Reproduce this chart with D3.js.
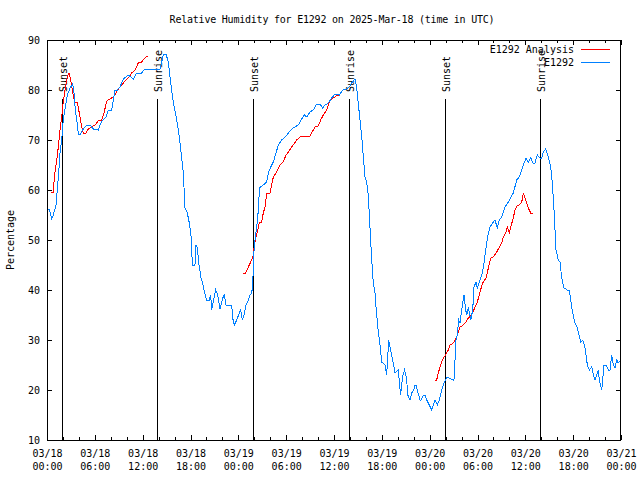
<!DOCTYPE html>
<html><head><meta charset="utf-8">
<script src="https://cdn.jsdelivr.net/npm/d3@7"></script>
<style>
body{margin:0;background:#fff}
svg{display:block}
text{font-family:"DejaVu Sans Mono",monospace;font-size:10px;fill:#000}
</style></head><body>
<svg id="c" width="640" height="480"></svg>
<script>
// ---- data (hours after 2025-03-18 00:00 UTC) ----
const titleText = "Relative Humidity for E1292 on 2025-Mar-18 (time in UTC)";
const yLabel = "Percentage";
const seriesNames = ["E1292 Analysis", "E1292"];
const seriesColors = ["#ff0000", "#0080ff"];
const yTicks = [10,20,30,40,50,60,70,80,90];

const obsHours = [0,0.3,0.59,0.79,1.13,1.47,1.63,1.84,2.04,2.30,2.55,2.89,3.22,3.39,3.55,3.73,3.93,4.14,4.48,4.77,5.06,5.39,5.81,6.43,6.65,6.99,7.40,7.69,8.12,8.53,8.82,9.16,9.57,10.20,10.83,11.25,11.88,12.17,12.51,14.17,14.59,14.93,15.22,15.52,15.84,16.27,16.60,16.90,17.10,17.31,17.60,17.85,18.06,18.15,18.28,18.56,18.69,18.85,19.07,19.32,19.53,19.78,20.03,20.36,20.53,20.66,20.86,21.16,21.41,21.70,22.04,22.24,22.45,23.17,23.29,23.49,23.80,24.12,24.30,24.50,24.71,24.96,25.25,25.46,25.68,25.80,25.88,25.97,26.09,26.30,26.43,26.56,26.63,27.13,27.56,27.76,28.06,28.39,28.73,29.01,29.44,29.98,30.27,30.70,31.11,31.52,31.86,32.28,32.58,32.99,33.40,33.83,34.24,34.58,34.87,35.29,35.71,36.13,36.67,37.09,37.51,37.92,38.22,38.64,38.85,39.17,39.48,39.68,39.89,40.10,40.30,40.43,40.73,40.93,41.14,41.27,41.56,41.77,41.98,42.40,42.61,42.86,43.11,43.44,43.65,44.07,44.35,44.60,44.85,45.10,45.25,45.53,45.80,46.00,46.16,46.30,46.45,46.79,46.91,47.20,47.42,47.63,47.95,48.26,48.46,48.67,48.96,49.21,49.51,49.71,49.96,50.21,50.97,51.05,51.18,51.30,51.47,51.64,51.81,52.02,52.15,52.31,52.52,52.65,52.85,53.15,53.40,53.56,53.81,53.98,54.23,54.53,54.73,54.94,55.16,55.36,55.57,55.91,56.20,56.48,56.74,57.04,57.45,57.87,58.49,58.92,59.24,59.55,59.75,60.09,60.37,60.68,61.00,61.21,61.50,61.84,62.05,62.26,62.56,62.88,63.18,63.38,63.60,63.72,63.85,64.14,64.35,64.56,64.85,65.27,65.52,65.69,65.94,66.23,66.45,66.65,66.95,67.20,67.49,67.78,68.03,68.33,68.53,68.74,68.95,69.15,69.28,69.58,69.87,70.12,70.41,70.62,70.83,71.04,71.25,71.46,71.66,71.88];
const obsRH = [56.2,56,54.2,55,57,63.4,67.4,70,74,76.6,79,80.4,81.2,79.4,76,74,71.2,71,72,72.6,73,73,72.2,72,73,74,74.6,76,76,80,80,80.6,82.2,83,82.2,83.4,83.4,84,84.2,84.2,87,87.2,85.6,81.4,77.6,74,70.6,66.4,63.4,56.4,55.4,53.4,51,47.4,45,45,49,48.4,45,42.4,41.4,39.4,38,38,39,36,37.6,40,39,36.2,38.4,39,37,37,34.4,33,34,35.4,36,34,35,37,38,39,39.4,41,44.4,48,50,52.6,54.6,57,60.4,61,61.6,63.4,64.6,65.6,67.4,69,70,70.8,71.4,72.2,72.6,73,74,75,74.6,75.6,76,77.2,77.2,76.4,77,77.4,78.4,79.2,79,80,80.2,80.6,81.4,82.2,80.4,75.4,70.6,66.6,62.6,61.6,59,55,46,41.4,39.4,36.6,31.6,29,25.6,25,23,30,28,25.4,23.4,24,19,22.6,24,22.4,19,18,19.6,20,21,21,20,18,18,19,19,18,17,16,17,18,17,18,20,21,22,22.6,22,22,26,30,31,34,33.4,36,37.4,39,36,35,36.6,34,36,40.6,41.6,40.4,41.6,43,44.4,47,49.4,51.4,52.6,53.4,54,52.4,54,54.6,56.6,57.6,59.4,62,62.6,64,65,66.4,65.6,66.4,65.2,65.4,67,66.4,66.4,67.6,68.2,66.6,64.6,61.4,56,52,48,46,45.6,42.4,40.4,40,40,38,35.4,33.4,32.8,31.6,29.6,30,28.4,25,24,24.6,23,22,23,24,22,20,25,25,24,24,27,25,24.4,26,25.4,25.8,26.2];

// analysis: null marks a gap between runs
const anaHours = [0.50,0.79,0.92,1.22,1.42,1.63,1.84,2.04,2.30,2.55,2.76,2.97,3.22,3.47,3.80,4.05,4.35,4.55,4.89,5.18,5.61,6.02,6.43,6.86,7.15,7.49,7.90,8.32,8.66,8.94,9.37,9.78,10.20,10.62,11.04,11.45,11.88,12.17,12.51,12.71,
  null,
  24.62,24.92,25.25,25.55,25.80,25.97,26.18,26.38,26.63,26.93,27.13,27.35,27.56,27.97,28.39,28.73,29.23,29.64,29.98,30.27,30.70,31.32,31.74,32.36,32.99,33.33,33.62,34.03,34.33,34.66,35.09,35.50,35.84,36.13,36.41,36.75,
  null,
  48.67,48.88,49.08,49.30,49.51,49.71,49.92,50.13,50.34,50.55,50.97,51.18,51.47,51.60,51.81,52.22,52.56,52.85,53.27,53.69,53.98,54.31,54.65,55.07,55.36,55.66,55.98,56.41,56.74,57.04,57.24,57.58,57.74,57.99,58.17,58.42,58.71,58.92,59.24,59.55,59.75,59.96,60.37,60.68,60.93];
const anaRH = [59.6,59.6,62.6,66,68.6,72,74.6,77.6,80.4,82.6,83.4,82,79.6,77.6,77.6,75.4,72.6,71.4,71.4,72.2,72.6,73,73.8,74,75.4,77.8,78.2,78.6,79.4,80.2,81,81.8,82.4,83.4,84,85.4,85.6,86.2,86.8,86.8,
  null,
  43.4,43.4,44.6,45.6,46.4,48.4,50.4,51.6,53.4,53.6,55.4,56.6,59.4,59.4,62.6,63.4,65,65.6,67,67.6,68.6,70,70.6,70.8,70.8,71.8,72.6,72.8,74,75,76,78,78.4,78.6,79,79,
  null,
  22,22,23.4,24.6,25.6,26.4,26.8,27.4,28,29,29.4,30,31,31.6,32.6,33,33.6,34.4,35,36.6,37.6,39.6,41.4,42.4,44.4,46.4,46.6,47.6,48.6,49.4,50.6,51.6,52.6,51.4,52.6,54,56,56.8,57,57.6,59.4,58.4,56.4,55.4,55.4];

const sunHours = [1.82, 13.85, 25.87, 37.88, 49.95, 61.88];
const sunLabels = ["Sunset","Sunrise","Sunset","Sunrise","Sunset","Sunrise"];
const sunLineTop = 78.2;   // value where the marker line ends
const sunLabelBase = 79.6; // value where the label starts

// ---- chart ----
const base = Date.UTC(2025, 2, 18);
const toDate = h => new Date(base + h * 3600000);
const M = {l:47, r:621, t:40, b:440};
const svg = d3.select("#c");

const x = d3.scaleUtc().domain([new Date(base), toDate(72)]).range([M.l, M.r]);
const y = d3.scaleLinear().domain([10, 90]).range([M.b, M.t]);

// title
svg.append("text").attr("x", 332).attr("y", 23).attr("text-anchor","middle")
  .style("letter-spacing","-0.22px").text(titleText);

// y label
svg.append("text").attr("transform","translate(14,240) rotate(-90)")
  .attr("text-anchor","middle").text(yLabel);

function clean(g){ g.select(".domain").remove(); g.selectAll("line").attr("stroke","#000").attr("shape-rendering","crispEdges"); }

// minor x ticks (every 2 h) bottom & top
svg.append("g").attr("transform",`translate(0,${M.b})`)
  .call(d3.axisBottom(x).ticks(d3.utcHour.every(2)).tickSizeInner(-3).tickSizeOuter(0).tickFormat(""))
  .call(clean);
svg.append("g").attr("transform",`translate(0,${M.t})`)
  .call(d3.axisTop(x).ticks(d3.utcHour.every(2)).tickSizeInner(-3).tickSizeOuter(0).tickFormat(""))
  .call(clean);
// major x ticks (every 6 h) with two-line labels
const fDate = d3.utcFormat("%m/%d"), fTime = d3.utcFormat("%H:%M");
const gx = svg.append("g").attr("transform",`translate(0,${M.b})`)
  .call(d3.axisBottom(x).ticks(d3.utcHour.every(6)).tickSizeInner(-5).tickSizeOuter(0).tickPadding(10))
  .call(clean);
gx.selectAll("text").each(function(d){
  const t = d3.select(this); t.text("");
  t.append("tspan").attr("x",0).text(fDate(d));
  t.append("tspan").attr("x",0).attr("dy",13).text(fTime(d));
}).attr("font-family",null).attr("font-size",null);
svg.append("g").attr("transform",`translate(0,${M.t})`)
  .call(d3.axisTop(x).ticks(d3.utcHour.every(6)).tickSizeInner(-5).tickSizeOuter(0).tickFormat(""))
  .call(clean);

// y axes
const gy = svg.append("g").attr("transform",`translate(${M.l},0)`)
  .call(d3.axisLeft(y).tickValues(yTicks).tickSizeInner(-5).tickSizeOuter(0).tickPadding(7).tickFormat(d3.format("d")))
  .call(clean);
gy.selectAll("text").attr("font-family",null).attr("font-size",null);
svg.append("g").attr("transform",`translate(${M.r},0)`)
  .call(d3.axisRight(y).tickValues(yTicks).tickSizeInner(-5).tickSizeOuter(0).tickFormat(""))
  .call(clean);

// sunrise / sunset markers
sunHours.forEach((h,i)=>{
  const xx = Math.round(x(toDate(h))) + 0.5;
  svg.append("line").attr("x1",xx).attr("x2",xx).attr("y1",y(10)).attr("y2",y(sunLineTop))
    .attr("stroke","#000").attr("stroke-width",1).attr("shape-rendering","crispEdges");
  svg.append("text").attr("transform",`translate(${xx+4},${y(sunLabelBase)}) rotate(-90)`)
    .text(sunLabels[i]);
});

// series
const line = d3.line().defined(d => d[1] != null).x(d => x(toDate(d[0]))).y(d => y(d[1]));
const obs = obsHours.map((h,i)=>[h, obsRH[i]]);
const ana = anaHours.map((h,i)=>[h, anaRH[i]]);
svg.append("path").datum(ana).attr("d", line).attr("fill","none")
  .attr("stroke", seriesColors[0]).attr("stroke-width",1).attr("shape-rendering","crispEdges");
svg.append("path").datum(obs).attr("d", line).attr("fill","none")
  .attr("stroke", seriesColors[1]).attr("stroke-width",1).attr("shape-rendering","crispEdges");

// legend
seriesNames.forEach((n,i)=>{
  const ly = 49 + i*13;
  svg.append("text").attr("x",574).attr("y",ly+3.5).attr("text-anchor","end").text(n);
  svg.append("line").attr("x1",581).attr("x2",610).attr("y1",ly+0.5).attr("y2",ly+0.5)
    .attr("stroke",seriesColors[i]).attr("stroke-width",1).attr("shape-rendering","crispEdges");
});

// border
svg.append("rect").attr("x",M.l+0.5).attr("y",M.t+0.5).attr("width",M.r-M.l-1).attr("height",M.b-M.t)
  .attr("fill","none").attr("stroke","#000").attr("shape-rendering","crispEdges");
</script>
</body></html>
